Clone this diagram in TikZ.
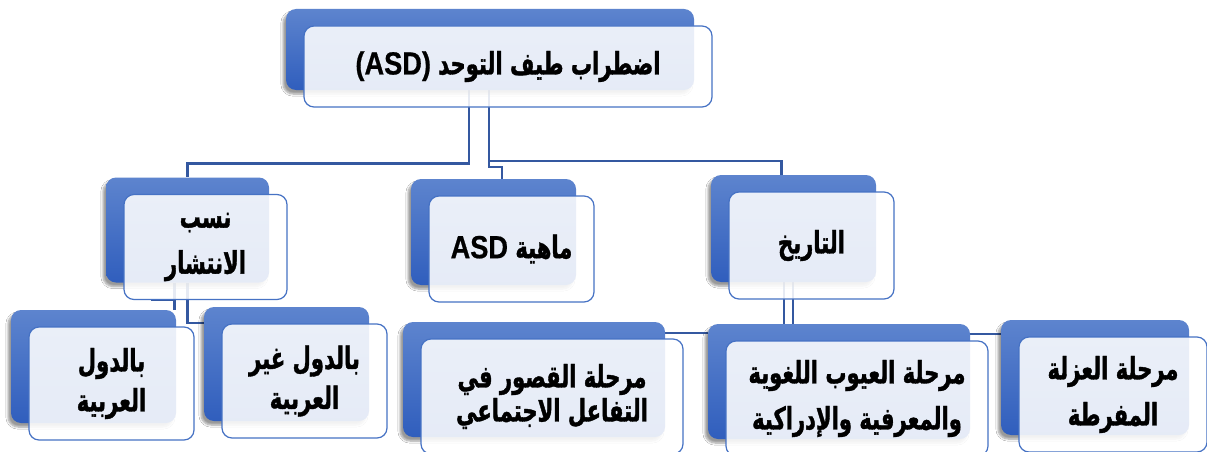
\documentclass[tikz,border=0pt]{standalone}
\usepackage{fontspec}
\setmainfont{Liberation Sans}
\newfontfamily\arfont[Script=Arabic,FakeStretch=0.68,BoldFeatures={FakeBold=1.2}]{DejaVu Sans}
\newfontfamily\latinf[FakeStretch=0.85,BoldFeatures={FakeBold=0.6}]{Liberation Sans}
\TeXXeTstate=1
\usetikzlibrary{calc,shadows,shadows.blur}
\definecolor{shtop}{RGB}{93,132,206}
\definecolor{shbot}{RGB}{48,94,189}
\definecolor{frame}{RGB}{70,114,196}
\definecolor{connc}{RGB}{52,88,160}
\newcommand\ar[1]{\beginR#1\endR}
\newcommand\la[1]{\beginL#1\endL}
\pgfdeclarelayer{bg}
\pgfsetlayers{bg,main}
\newcommand\dbox[7]{%
  \node[shbox, minimum width=#4pt, minimum height=#5pt] (#1s) at (#2-18,#3-17) {};
  \node[frbox, minimum width=#4pt, minimum height=#5pt,
        font=\arfont\bfseries\fontsize{31}{#6}\selectfont] (#1) at (#2,#3) {#7};
}
\begin{document}
\begin{tikzpicture}[x=1pt,y=-1pt,
  shbox/.style={rounded corners=10pt, top color=shtop, bottom color=shbot, draw=none,
     blur shadow={shadow xshift=-3pt, shadow yshift=-4pt, shadow opacity=40, shadow blur steps=6}},
  frbox/.style={rounded corners=10pt, draw=frame, line width=1.2pt, fill=white,
     fill opacity=0.88, text opacity=1, align=center, inner sep=0pt},
  connline/.style={draw=connc, line width=2.6pt}]
\useasboundingbox (0,0) rectangle (1207,452);

\dbox{top}{508}{66.5}{408}{81}{40}{\ar{اضطراب طيف التوحد \la{\latinf\bfseries\fontsize{32}{40}\selectfont (ASD)}}}
\dbox{nasab}{205.5}{247}{163}{105}{46}{\ar{نسب}\\\ar{الانتشار}}
\dbox{maahiya}{511.5}{249}{165}{106}{40}{\ar{ماهية \la{\latinf\bfseries\fontsize{32}{40}\selectfont ASD}}}
\dbox{tarikh}{811.5}{245.5}{165}{107}{40}{\ar{التاريخ}}
\dbox{arab}{111.5}{383.5}{165}{113}{40}{\ar{بالدول}\\\ar{العربية}}
\dbox{nonarab}{304.5}{381}{165}{114}{40}{\ar{بالدول غير}\\\ar{العربية}}
\dbox{qusur}{552}{396.5}{262}{115}{34}{\ar{مرحلة القصور في}\\\ar{التفاعل الاجتماعي}}
\dbox{uyub}{857}{398.5}{262}{115}{46}{\ar{مرحلة العيوب اللغوية}\\\ar{والمعرفية والإدراكية}}
\dbox{uzla}{1113}{394.5}{188}{115}{46}{\ar{مرحلة العزلة}\\\ar{المفرطة}}

\coordinate (d1) at ($(nasabs.south)+(-13,0)$);
\coordinate (t1) at ($(tarikhs.south)+(-9.5,0)$);
\coordinate (t2) at ($(tarikhs.south)+(-0.5,0)$);
\coordinate (q1) at ($(qusurs.north east)+(0,11)$);
\coordinate (q2) at ($(uyubs.north east)+(0,10)$);

\begin{pgfonlayer}{bg}
\fill[white] (0,0) rectangle (1207,452);
\draw[connline] ($(tops.south)+(-21,0)$) |- ($(nasabs.north)+(0,-14)$) -- (nasabs.north);
\draw[connline] ($(tops.south)+(-1,0)$) |- ($(maahiyas.north)+(8.5,-12)$) -- ($(maahiyas.north)+(8.5,0)$);
\draw[connline] ($(tops.south)+(-1,0)$) |- ($(tarikhs.north)+(-12,-14)$) -- ($(tarikhs.north)+(-12,0)$);
\draw[connline] (d1) -- (d1 |- arabs.north);
\draw[connline] ($(nasab.south)+(-55,0)$) -- ($(nasab.south)+(-30.5,0)$);
\draw[connline] (nasabs.south) |- ($(nonarabs.north west)+(0,16)$);
\draw[connline] (t1) -- (t1 |- uyubs.north);
\draw[connline] (t2) -- (t2 |- uyubs.north);
\draw[connline] (q1) -- (q1 -| uyubs.west);
\draw[connline] (q2) -- (q2 -| uzlas.west);
\end{pgfonlayer}
\end{tikzpicture}
\end{document}
